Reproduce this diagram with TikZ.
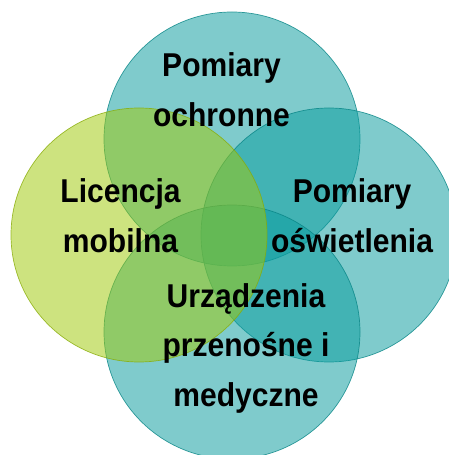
\documentclass[tikz,border=0pt]{standalone}
\usepackage{fontspec}
\newfontfamily\vennfont[FakeStretch=0.91]{Liberation Sans}
\usepackage{tikz}
\definecolor{vteal}{RGB}{10,156,158}
\definecolor{vgreen}{RGB}{160,202,10}
\tikzset{
  tealset/.style={fill=vteal,draw=vteal!85!black,fill opacity=0.52,draw opacity=0.8,line width=0.7pt},
  greenset/.style={fill=vgreen,draw=vgreen!85!black,fill opacity=0.52,draw opacity=0.8,line width=0.7pt},
  settext/.style={font=\vennfont\bfseries\fontsize{33}{50}\selectfont,align=center,anchor=base}
}
\begin{document}
\begin{tikzpicture}[x=1pt,y=1pt]
    \useasboundingbox (0,0) rectangle (449,455);
    \coordinate (top) at (232,316);
    \coordinate (right) at (329,220);
    \coordinate (bottom) at (232,123);
    \coordinate (left) at (139,220);
    \draw[tealset] (top) ellipse [x radius=128,y radius=127];
    \draw[tealset] (right) ellipse [x radius=128,y radius=127];
    \draw[tealset] (bottom) ellipse [x radius=128,y radius=127];
    \draw[greenset] (left) ellipse [x radius=128,y radius=127];
    % base anchor sits on the last line
    \node[settext] (ochr) at (221.5,328) {Pomiary\\ochronne};
    \node[settext] (lic) at (120.5,202) {Licencja\\mobilna};
    \node[settext] (osw) at (352,202) {Pomiary\\oświetlenia};
    \node[settext] (urz) at (246,48) {Urządzenia\\przenośne i\\medyczne};
\end{tikzpicture}
\end{document}
